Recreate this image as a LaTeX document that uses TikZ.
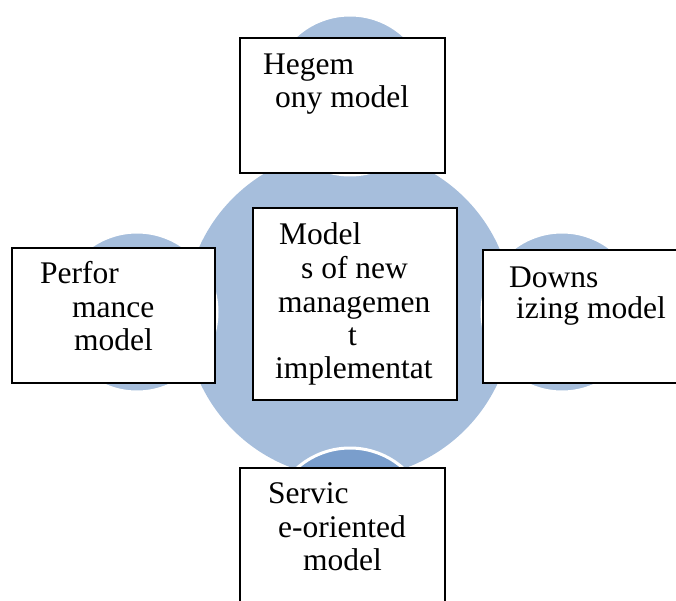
\documentclass[tikz,border=0pt]{standalone}
\usepackage{fontspec}
\setmainfont{Liberation Serif}
\usepackage{xcolor}
\definecolor{ringblue}{HTML}{A6BEDC}
\definecolor{darkblue}{HTML}{7A9ECC}
\tikzset{
	modelbox/.style={draw, line width=1.6pt, fill=white, inner sep=0, outer sep=0},
	wordline/.style={anchor=base west, inner sep=0, font=\fontsize{31.5}{33.3}\selectfont},
	satellite/.style={fill=ringblue, draw=white, line width=3pt}
}

\begin{document}
\begin{tikzpicture}[x=1pt,y=-1pt]
		\useasboundingbox (0,0) rectangle (676,601);
		\coordinate (C) at (349,314);
		\coordinate (T) at (350,95);
		\coordinate (L) at (137,312);
		\coordinate (R) at (562,312);
		\coordinate (B) at (350,528);
		\fill[ringblue] (C) circle[radius=164];
		\filldraw[satellite] (T) circle[radius=80];
		\filldraw[satellite] (L) circle[radius=80];
		\filldraw[satellite] (R) circle[radius=80];
		\filldraw[satellite, fill=darkblue] (B) circle[radius=80];
		\node[modelbox, minimum width=205, minimum height=135] (hegbox) at (342.5,105.5) {};
		\node[modelbox, minimum width=204, minimum height=192] (newbox) at (355,304) {};
		\node[modelbox, minimum width=203, minimum height=135] (perfbox) at (113.5,315.5) {};
		\node[modelbox, minimum width=217, minimum height=133] (downbox) at (591.5,316.5) {};
		\node[modelbox, minimum width=205, minimum height=152] (servbox) at (342.5,544) {};
		\node[wordline] (heg1) at (263,75) {Hegem};
		\node[wordline] (heg2) at (275,108) {ony model};
		\node[wordline] (new1) at (279,245) {Model};
		\node[wordline] (new2) at (301,278) {s of new};
		\node[wordline] (new3) at (278,312) {managemen};
		\node[wordline] (new4) at (348,345) {t};
		\node[wordline] (new5) at (275,378) {implementat};
		\node[wordline] (perf1) at (40,283) {Perfor};
		\node[wordline] (perf2) at (72,317) {mance};
		\node[wordline] (perf3) at (74,350) {model};
		\node[wordline] (down1) at (509,287) {Downs};
		\node[wordline] (down2) at (516,318) {izing model};
		\node[wordline] (serv1) at (268,503) {Servic};
		\node[wordline] (serv2) at (278,537) {e-oriented};
		\node[wordline] (serv3) at (303,570) {model};
	\end{tikzpicture}
\end{document}
